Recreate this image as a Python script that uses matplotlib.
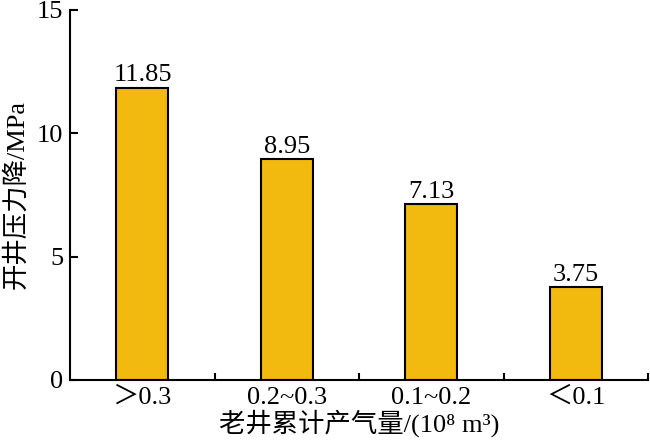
import matplotlib
matplotlib.use("Agg")
import matplotlib.pyplot as plt
import numpy as np

plt.rcParams['font.family'] = ['Liberation Serif', 'Noto Sans CJK SC', 'DejaVu Serif']

# 数据
categorias = ['＞0.3', '0.2~0.3', '0.1~0.2', '＜0.1']
valores = [11.85, 8.95, 7.13, 3.75]

fig = plt.figure(figsize=(6.5, 4.47), dpi=100)
ax = fig.add_axes([0.108, 0.150, 0.889, 0.828])

x = np.arange(len(categorias))
ax.bar(x, valores, width=0.36, color='#F2BA0E', edgecolor='black', linewidth=1.5)

for xi, v in zip(x, valores):
    ax.text(xi, v + 0.05, '{:.2f}'.format(v), ha='center', va='bottom', fontsize=19)

ax.set_xlim(-0.5, 3.5)
ax.set_ylim(0, 15)
ax.set_yticks([0, 5, 10, 15])
ax.set_xticks(x)
ax.set_xticklabels(categorias, fontsize=19)
ax.set_xticks([0.5, 1.5, 2.5, 3.5], minor=True)
ax.tick_params(axis='x', which='major', length=0, pad=5)
ax.tick_params(axis='x', which='minor', direction='in', length=5, width=1.5)
ax.tick_params(axis='y', direction='in', length=6, width=1.5, labelsize=19, pad=5)

for s in ['top', 'right']:
    ax.spines[s].set_visible(False)
for s in ['left', 'bottom']:
    ax.spines[s].set_linewidth(1.5)

ax.set_ylabel('开井压力降/MPa', fontsize=19, labelpad=6)
ax.set_xlabel('老井累计产气量/(10⁸ m³)', fontsize=19, labelpad=0)

fig.savefig('out.png', dpi=100)
